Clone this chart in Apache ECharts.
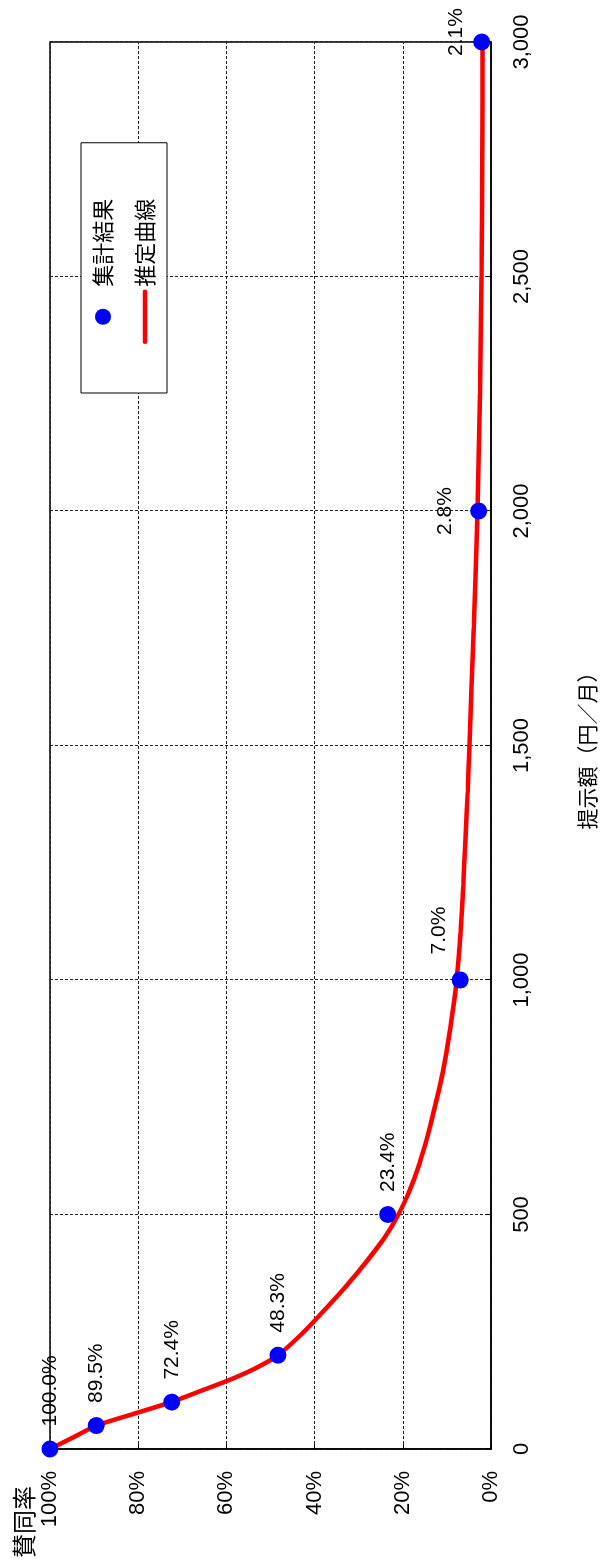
<!DOCTYPE html>
<html>
<head>
<meta charset="utf-8">
<script src="https://cdn.jsdelivr.net/npm/echarts@6/dist/echarts.min.js"></script>
<style>
html,body{margin:0;padding:0;width:603px;height:1564px;overflow:hidden;background:#fff;}
#chart{position:absolute;left:0;top:0;width:1564px;height:603px;transform-origin:0 0;transform:translate(0,1564px) rotate(-90deg);}
</style>
</head>
<body>
<div id="chart"></div>
<script>
// 集計結果 (survey results)
const surveyYen = [0, 50, 100, 200, 500, 1000, 2000, 3000];
const surveyRate = [100.0, 89.5, 72.4, 48.3, 23.4, 7.0, 2.8, 2.1];
// 推定曲線 (estimated curve)
const curveYen = [0, 25, 50, 75, 100, 125, 150, 175, 200, 250, 300, 350, 400, 450, 500, 550, 600, 650, 700, 800, 900, 1000, 1100, 1200, 1300, 1400, 1500, 1750, 2000, 2250, 2500, 2750, 3000];
const curveRate = [100, 94.7, 89.5, 81, 72.5, 65.5, 58.6, 52.8, 48.3, 42.4, 37.4, 32.6, 28.2, 24.2, 21.0, 18.5, 16.5, 14.9, 13.5, 11.0, 9.2, 7.8, 6.9, 6.3, 5.8, 5.3, 4.9, 3.9, 3.05, 2.5, 2.15, 2.0, 1.9];
// tick labels
const yenTickLabels = ['0', '500', '1,000', '1,500', '2,000', '2,500', '3,000'];
const rateTickLabels = ['0%', '20%', '40%', '60%', '80%', '100%'];
const seriesNames = ['集計結果', '推定曲線'];
const xAxisName = '提示額（円／月）';
const yAxisName = '賛同率';

// label placement tweaks (style only)
const labelTweaks = {
  5: {position: 'right', offset: [3, -21]},
  6: {position: 'top', offset: [0, 0]},
  7: {position: 'top', offset: [10, 7]}
};

const LATIN = '"Liberation Sans", Arial, "Noto Sans CJK JP", sans-serif';
const CJK = '"Noto Sans CJK JP", "Liberation Sans", sans-serif';

const scatterData = surveyYen.map((x, i) => {
  const item = {value: [x, surveyRate[i]]};
  if (labelTweaks[i]) item.label = labelTweaks[i];
  return item;
});
const curveData = curveYen.map((x, i) => [x, curveRate[i]]);

const chart = echarts.init(document.getElementById('chart'), null, {renderer: 'canvas'});
chart.setOption({
  animation: false,
  backgroundColor: '#fff',
  grid: {left: 115, right: 42, top: 50, bottom: 112, show: true, borderColor: '#000', borderWidth: 1.5, backgroundColor: 'transparent'},
  legend: {
    orient: 'vertical',
    left: 1171, top: 81,
    padding: [11, 56, 11, 49],
    itemGap: 20,
    itemWidth: 50, itemHeight: 16,
    borderColor: '#000', borderWidth: 1,
    backgroundColor: '#fff',
    textStyle: {fontFamily: CJK, fontSize: 22, color: '#000'},
    data: [
      {name: seriesNames[0], icon: 'circle', itemStyle: {color: '#0000ff', opacity: 1}},
      {name: seriesNames[1], itemStyle: {opacity: 0, color: 'transparent', borderWidth: 0},
        lineStyle: {color: '#ff0000', width: 4.5, cap: 'round', opacity: 1}}
    ]
  },
  xAxis: {
    type: 'value', min: 0, max: 3000, interval: 500,
    name: xAxisName, nameLocation: 'middle', nameGap: 86,
    nameTextStyle: {fontFamily: CJK, fontSize: 21, color: '#000'},
    axisLine: {show: true, lineStyle: {color: '#000', width: 1.5}},
    axisTick: {show: true, inside: true, length: 5, lineStyle: {color: '#000'}},
    axisLabel: {margin: 20, fontFamily: LATIN, fontSize: 22, color: '#000',
      formatter: v => yenTickLabels[Math.round(v / 500)]},
    splitLine: {show: true, lineStyle: {color: '#222', type: [3, 2], width: 1}}
  },
  yAxis: {
    type: 'value', min: 0, max: 100, interval: 20,
    name: yAxisName, nameLocation: 'end', nameGap: 26,
    nameTextStyle: {fontFamily: CJK, fontSize: 24, color: '#000', align: 'right', verticalAlign: 'middle', padding: [0, 37, 0, 0]},
    axisLine: {show: true, lineStyle: {color: '#000', width: 1.5}},
    axisTick: {show: true, inside: true, length: 5, lineStyle: {color: '#000'}},
    axisLabel: {margin: 22, fontFamily: LATIN, fontSize: 22, color: '#000',
      formatter: v => rateTickLabels[Math.round(v / 20)]},
    splitLine: {show: true, lineStyle: {color: '#222', type: [3, 2], width: 1}}
  },
  series: [
    {
      name: seriesNames[0], type: 'scatter', z: 5, clip: false,
      symbol: 'circle', symbolSize: 17,
      itemStyle: {color: '#0000ff', opacity: 1},
      label: {show: true, position: 'right', distance: 14, fontFamily: LATIN, fontSize: 21, color: '#000', opacity: 1,
        formatter: p => p.value[1].toFixed(1) + '%'},
      data: scatterData
    },
    {
      name: seriesNames[1], type: 'line', z: 3, clip: false,
      smooth: 0.2,
      showSymbol: false, symbol: 'none',
      lineStyle: {color: '#ff0000', width: 4.5, cap: 'round'},
      itemStyle: {color: '#ff0000'},
      data: curveData
    }
  ]
});
</script>
</body>
</html>
